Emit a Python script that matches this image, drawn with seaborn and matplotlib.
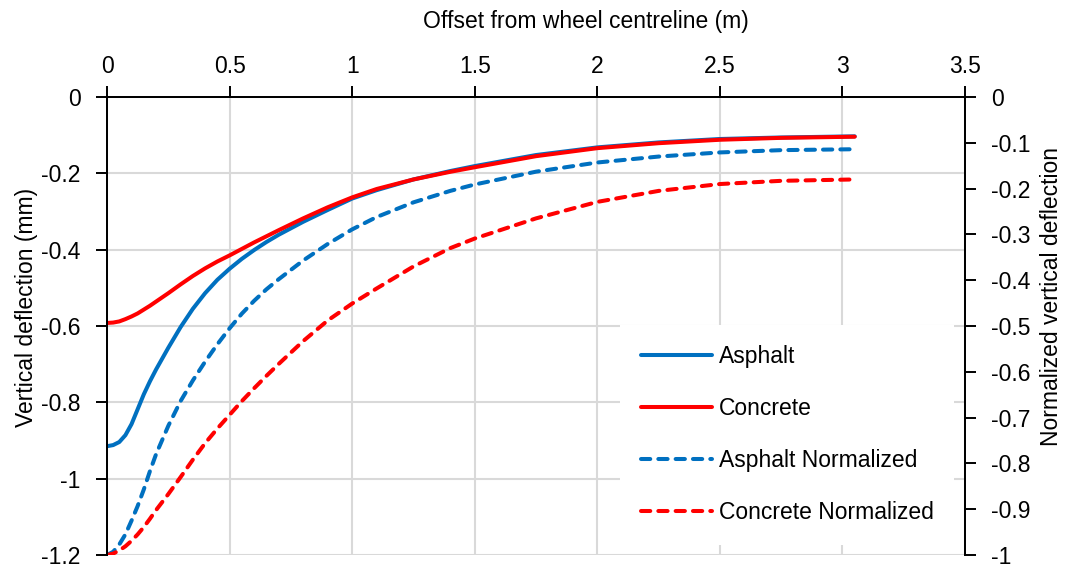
import matplotlib
matplotlib.use("Agg")
import matplotlib.pyplot as plt
from matplotlib.ticker import FuncFormatter
import seaborn as sns

# Offset from the wheel centreline (m)
offset = [0.0, 0.025, 0.05, 0.075, 0.1, 0.125, 0.15, 0.175, 0.2, 0.25, 0.3,
          0.35, 0.4, 0.45, 0.5, 0.55, 0.6, 0.65, 0.7, 0.8, 0.9, 1.0, 1.1,
          1.25, 1.4, 1.5, 1.75, 2.0, 2.25, 2.5, 2.75, 3.05]

# Vertical deflection (mm)
asphalt = [-0.915, -0.912, -0.904, -0.886, -0.857, -0.818, -0.779, -0.745,
           -0.714, -0.657, -0.603, -0.555, -0.514, -0.479, -0.450, -0.424,
           -0.401, -0.380, -0.361, -0.327, -0.296, -0.266, -0.244, -0.216,
           -0.194, -0.181, -0.152, -0.132, -0.119, -0.110, -0.106, -0.103]
concrete = [-0.592, -0.591, -0.588, -0.582, -0.575, -0.567, -0.557, -0.547,
            -0.536, -0.514, -0.491, -0.469, -0.449, -0.431, -0.415, -0.398,
            -0.381, -0.365, -0.349, -0.318, -0.289, -0.263, -0.241, -0.216,
            -0.196, -0.184, -0.155, -0.134, -0.121, -0.112, -0.107, -0.104]

# Normalized vertical deflection (-)
asphalt_norm = [-1.0, -0.993, -0.977, -0.955, -0.925, -0.893, -0.857, -0.817,
                -0.780, -0.718, -0.664, -0.619, -0.578, -0.540, -0.505, -0.473,
                -0.445, -0.420, -0.398, -0.357, -0.321, -0.289, -0.262, -0.230,
                -0.205, -0.191, -0.163, -0.143, -0.130, -0.121, -0.116, -0.114]
concrete_norm = [-1.0, -0.997, -0.990, -0.981, -0.969, -0.955, -0.939, -0.921,
                 -0.902, -0.867, -0.830, -0.792, -0.756, -0.724, -0.694, -0.664,
                 -0.636, -0.609, -0.583, -0.533, -0.488, -0.451, -0.418, -0.370,
                 -0.330, -0.309, -0.265, -0.229, -0.205, -0.190, -0.183, -0.180]

x_ticks = [0, 0.5, 1, 1.5, 2, 2.5, 3, 3.5]
left_ticks = [0, -0.2, -0.4, -0.6, -0.8, -1.0, -1.2]
right_ticks = [0, -0.1, -0.2, -0.3, -0.4, -0.5, -0.6, -0.7, -0.8, -0.9, -1.0]

BLUE = "#0070C0"
RED = "#FF0000"
GRID = "#D9D9D9"

sns.set_theme(style="white")
plt.rcParams["font.family"] = ["Liberation Sans", "DejaVu Sans"]
plt.rcParams["axes.unicode_minus"] = False
for key in ("text.color", "axes.labelcolor", "xtick.color", "ytick.color"):
    plt.rcParams[key] = "black"
FS = 16.5

fig = plt.figure(figsize=(10.66, 5.68), dpi=100)
ax = fig.add_axes([0.1004, 0.0229, 0.8049, 0.8063])
ax2 = ax.twinx()

lw = 2.9
sns.lineplot(x=offset, y=asphalt, ax=ax, color=BLUE, lw=lw, label="Asphalt",
             legend=False, solid_capstyle="round")
sns.lineplot(x=offset, y=concrete, ax=ax, color=RED, lw=lw, label="Concrete",
             legend=False, solid_capstyle="round")
sns.lineplot(x=offset, y=asphalt_norm, ax=ax2, color=BLUE, lw=lw,
             label="Asphalt Normalized", legend=False)
sns.lineplot(x=offset, y=concrete_norm, ax=ax2, color=RED, lw=lw,
             label="Concrete Normalized", legend=False)
for line in ax2.lines:
    line.set_dashes((2.3, 2.0))
    line.set_dash_capstyle("round")


def tick_text(v, pos):
    s = "%g" % round(v, 2)
    return "0" if s in ("-0", "0") else s


fmt = FuncFormatter(tick_text)

# left / top axes
ax.set_xlim(0, 3.5)
ax.set_ylim(-1.2, 0)
ax.set_xticks(x_ticks)
ax.set_yticks(left_ticks)
ax.xaxis.set_major_formatter(fmt)
ax.yaxis.set_major_formatter(fmt)
ax.xaxis.tick_top()
ax.xaxis.set_label_position("top")
ax.grid(True, color=GRID, lw=1.5)
ax.set_axisbelow(True)
ax.tick_params(axis="x", which="major", direction="out", length=8, width=1.4,
               color="black", labelsize=FS, pad=6, top=True, bottom=False)
ax.tick_params(axis="y", which="major", direction="out", length=8, width=1.4,
               color="black", labelsize=FS, pad=11, left=True)
ax.set_xlabel("Offset from wheel centreline (m)", fontsize=FS)
ax.set_ylabel("Vertical deflection (mm)", fontsize=FS)
ax.xaxis.set_label_coords(0.558, 1.15)
ax.yaxis.set_label_coords(-0.08, 0.54)

# right axis
ax2.set_ylim(-1.0, 0)
ax2.set_yticks(right_ticks)
ax2.yaxis.set_major_formatter(fmt)
ax2.tick_params(axis="y", which="major", direction="out", length=8, width=1.4,
                color="black", labelsize=FS, pad=11, right=True)
ax2.set_ylabel("Normalized vertical deflection", fontsize=FS)
ax2.yaxis.set_label_coords(1.087, 0.565)
ax2.grid(False)

for a in (ax, ax2):
    for sp in a.spines.values():
        sp.set_color("black")
        sp.set_linewidth(1.4)
    a.spines["bottom"].set_visible(False)

h1, l1 = ax.get_legend_handles_labels()
h2, l2 = ax2.get_legend_handles_labels()
leg = ax2.legend(h1 + h2, l1 + l2, loc="upper left",
                 bbox_to_anchor=(0.585, 0.528), fontsize=FS, frameon=True,
                 facecolor="white", edgecolor="none", framealpha=1.0,
                 handlelength=3.1, handletextpad=0.3, labelspacing=1.26,
                 borderpad=0.9, fancybox=False)
# keep the legend box under the spines so the right axis line stays visible
leg.set_zorder(1)

fig.savefig("out.png", dpi=100)
